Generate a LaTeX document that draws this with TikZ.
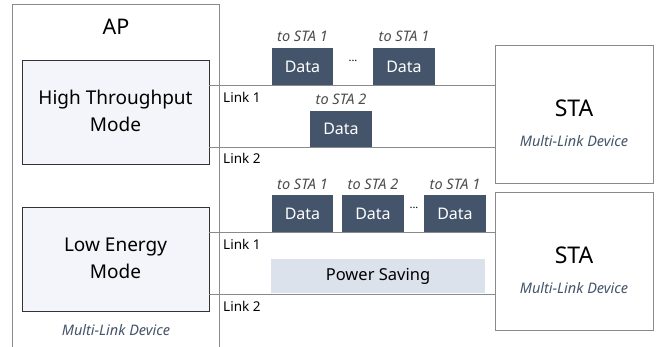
\documentclass[tikz,border=0pt]{standalone}
\usepackage{fontspec}
\setmainfont{Noto Sans}
\definecolor{datafill}{HTML}{44546A}
\definecolor{modefill}{HTML}{F4F5FA}
\definecolor{psfill}{HTML}{DCE2EC}
\definecolor{linec}{HTML}{8A8A8A}
\definecolor{labc}{HTML}{44546A}
\begin{document}
\begin{tikzpicture}[x=1pt,y=-1pt,
  box/.style={draw=linec,line width=0.9pt},
  modebox/.style={draw=black!80,line width=0.9pt,fill=modefill},
  databox/.style={fill=datafill,text=white,font=\fontsize{16}{18}\selectfont,inner sep=0pt},
  linkline/.style={draw=linec,line width=0.8pt},
  linklab/.style={anchor=west,font=\fontsize{13.5}{15}\selectfont,inner sep=0pt},
  tolab/.style={font=\fontsize{14.5}{16}\selectfont\itshape,text=black!70,inner sep=0pt},
  mld/.style={font=\fontsize{14.5}{16}\selectfont\itshape,text=labc,inner sep=0pt},
  modetext/.style={font=\fontsize{19}{27}\selectfont,align=center,inner sep=0pt}]
\useasboundingbox (0,0) rectangle (662,347);
% AP outer box (open at bottom)
\draw[box] (12,350) -- (12,4) -- (219,4) -- (219,350);
\node[font=\fontsize{21.5}{24}\selectfont,inner sep=0pt] (ap) at (116,27) {AP};
\node[mld] (apmld) at (116,330) {Multi-Link Device};
% modes
\node[modebox,minimum width=187pt,minimum height=104pt,inner sep=0pt] (ht) at (115.5,112) {};
\node[modetext] (httext) at (115.5,111) {High Throughput\\Mode};
\node[modebox,minimum width=187pt,minimum height=104pt,inner sep=0pt] (le) at (115.5,259) {};
\node[modetext] (letext) at (115.5,258) {Low Energy\\Mode};
% STA boxes
\node[box,minimum width=158pt,minimum height=138pt,inner sep=0pt] (sta1) at (574,114) {};
\node[font=\fontsize{23}{25}\selectfont,inner sep=0pt] (sta1t) at (574,108) {STA};
\node[mld] (sta1m) at (574,141) {Multi-Link Device};
\node[box,minimum width=158pt,minimum height=138pt,inner sep=0pt] (sta2) at (574,261) {};
\node[font=\fontsize{23}{25}\selectfont,inner sep=0pt] (sta2t) at (574,255) {STA};
\node[mld] (sta2m) at (574,288) {Multi-Link Device};
% link coordinates
\coordinate (h1a) at (209,85); \coordinate (h1b) at (495,85);
\coordinate (h2a) at (209,147); \coordinate (h2b) at (495,147);
\coordinate (l1a) at (209,232); \coordinate (l1b) at (495,232);
\coordinate (l2a) at (209,294); \coordinate (l2b) at (495,294);
\draw[linkline] (h1a) -- (h1b);
\draw[linkline] (h2a) -- (h2b);
\draw[linkline] (l1a) -- (l1b);
\draw[linkline] (l2a) -- (l2b);
\node[linklab] (lk1) at (223,97) {Link 1};
\node[linklab] (lk2) at (223,158) {Link 2};
\node[linklab] (lk3) at (223,244) {Link 1};
\node[linklab] (lk4) at (223,306) {Link 2};
% data upper
\node[databox,minimum width=61pt,minimum height=37pt] (d1) at (302.5,66.5) {Data};
\node[databox,minimum width=62pt,minimum height=37pt] (d2) at (404,66.5) {Data};
\node[inner sep=0pt,font=\fontsize{11}{12}\selectfont] (dots1) at (353,61) {...};
\node[tolab] (t1) at (302.5,36) {to STA 1};
\node[tolab] (t2) at (404,36) {to STA 1};
\node[databox,minimum width=62pt,minimum height=36pt] (d3) at (341,129) {Data};
\node[tolab] (t3) at (341,99) {to STA 2};
% data lower
\node[databox,minimum width=61pt,minimum height=37pt] (d4) at (302.5,213.5) {Data};
\node[databox,minimum width=62pt,minimum height=37pt] (d5) at (373,213.5) {Data};
\node[databox,minimum width=62pt,minimum height=37pt] (d6) at (455,213.5) {Data};
\node[inner sep=0pt,font=\fontsize{11}{12}\selectfont] (dots2) at (414,208) {...};
\node[tolab] (t4) at (302.5,184) {to STA 1};
\node[tolab] (t5) at (373,184) {to STA 2};
\node[tolab] (t6) at (455,184) {to STA 1};
% power saving
\node[fill=psfill,minimum width=214pt,minimum height=34pt,inner sep=0pt,font=\fontsize{16.5}{18}\selectfont] (ps) at (378,276) {Power Saving};
\end{tikzpicture}
\end{document}
